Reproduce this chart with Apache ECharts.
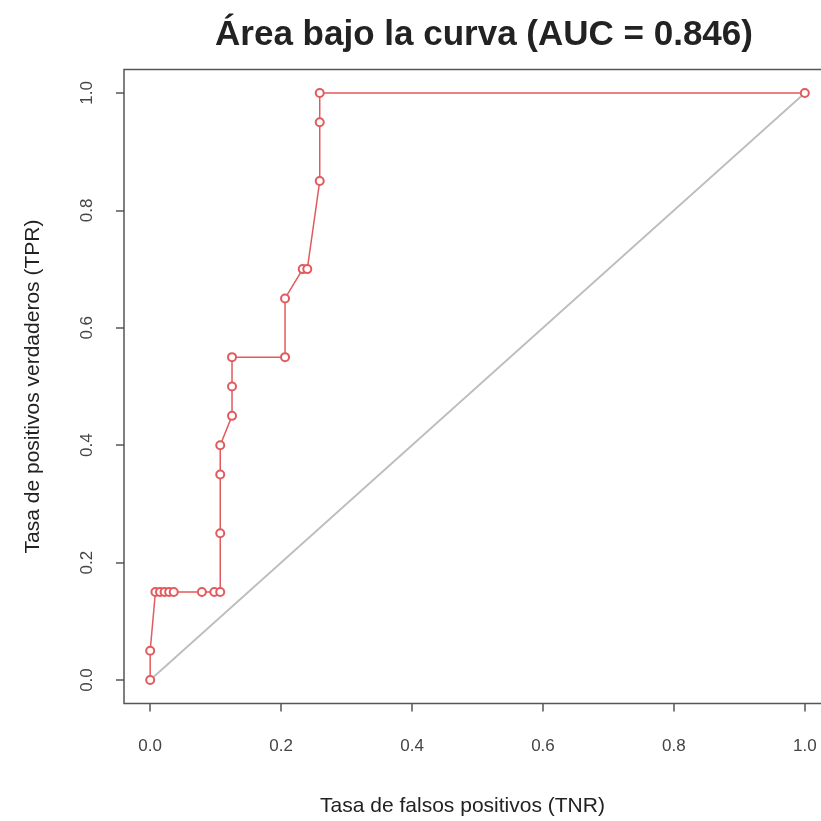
<!DOCTYPE html>
<html>
<head>
<meta charset="utf-8">
<script src="https://cdn.jsdelivr.net/npm/echarts@6/dist/echarts.min.js"></script>
<style>
  html, body { margin: 0; padding: 0; background: #fff; }
  #chart { width: 821px; height: 821px; }
</style>
</head>
<body>
<div id="chart"></div>
<script>
// curva ROC: tasa de falsos positivos / verdaderos positivos
const fpr = [0, 0, 0.008, 0.015, 0.022, 0.029, 0.036, 0.079, 0.098, 0.107, 0.107, 0.107, 0.107,
  0.125, 0.125, 0.125, 0.206, 0.206, 0.233, 0.240, 0.259, 0.259, 0.259, 1]
const tpr = [0, 0.05, 0.15, 0.15, 0.15, 0.15, 0.15, 0.15, 0.15, 0.15, 0.25, 0.35, 0.40,
  0.45, 0.50, 0.55, 0.55, 0.65, 0.70, 0.70, 0.85, 0.95, 1.0, 1.0]
// diagonal de referencia
const diagX = [0, 1]
const diagY = [0, 1]
const ticks = [0, 0.2, 0.4, 0.6, 0.8, 1.0]

const chart = echarts.init(document.getElementById('chart'))

const labelFont = 'Liberation Sans, Arial, sans-serif'

const option = {
  animation: false,
  backgroundColor: '#fff',
  title: {
    text: 'Área bajo la curva (AUC = 0.846)',
    left: 479,
    top: 13,
    textAlign: 'center',
    textStyle: { fontFamily: labelFont, fontWeight: 'bold', fontSize: 35, color: '#222' }
  },
  grid: {
    left: 124, top: 69.5, width: 707, height: 634,
    show: true, borderColor: '#555', borderWidth: 1.5,
    outerBoundsMode: 'none'
  },
  xAxis: {
    type: 'value', min: -0.04, max: 1.04,
    name: 'Tasa de falsos positivos (TNR)',
    nameLocation: 'middle', nameGap: 92,
    nameTextStyle: { fontFamily: labelFont, fontSize: 21, color: '#222', padding: [0, 30, 0, 0] },
    axisLine: { show: false, onZero: false },
    splitLine: { show: false },
    axisTick: { show: true, length: 8, lineStyle: { color: '#555', width: 1.5 }, customValues: ticks },
    axisLabel: {
      customValues: ticks, margin: 34,
      fontFamily: labelFont, fontSize: 17, color: '#444',
      formatter: v => v.toFixed(1)
    }
  },
  yAxis: {
    type: 'value', min: -0.04, max: 1.04,
    name: 'Tasa de positivos verdaderos (TPR)',
    nameLocation: 'middle', nameGap: 80,
    nameTextStyle: { fontFamily: labelFont, fontSize: 21, color: '#222' },
    axisLine: { show: false, onZero: false },
    splitLine: { show: false },
    axisTick: { show: true, length: 8, lineStyle: { color: '#555', width: 1.5 }, customValues: ticks },
    axisLabel: {
      customValues: ticks, margin: 28, rotate: 90,
      fontFamily: labelFont, fontSize: 17, color: '#444',
      formatter: v => v.toFixed(1)
    }
  },
  series: [
    {
      type: 'line',
      data: diagX.map((x, i) => [x, diagY[i]]),
      symbol: 'none',
      lineStyle: { color: '#bdbdbd', width: 1.8 },
      z: 1
    },
    {
      type: 'line',
      data: fpr.map((x, i) => [x, tpr[i]]),
      symbol: 'emptyCircle',
      symbolSize: 8,
      itemStyle: { color: '#e35a5e', borderWidth: 1.2 },
      lineStyle: { color: '#e35a5e', width: 1.5 },
      z: 2
    }
  ]
}

chart.setOption(option)
</script>
</body>
</html>
